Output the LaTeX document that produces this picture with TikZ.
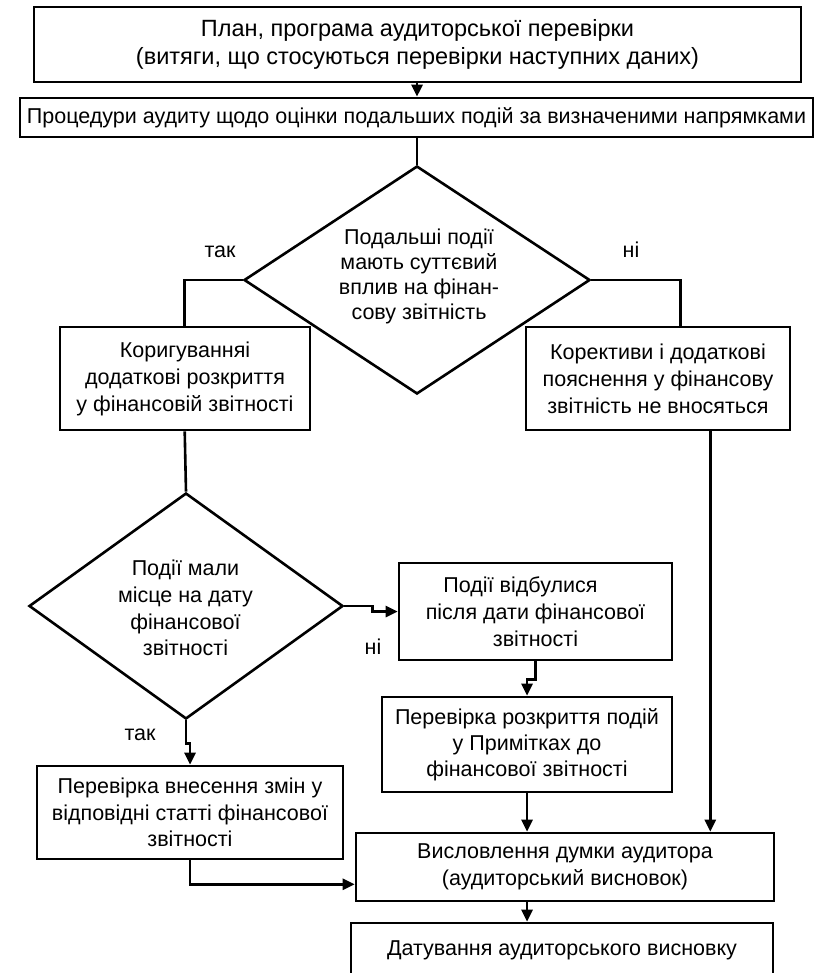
\documentclass[tikz,border=0pt]{standalone}
\usepackage{fontspec}
\setmainfont{Liberation Sans}
\usetikzlibrary{shapes.geometric,arrows.meta,calc}
\begin{document}
\begin{tikzpicture}[x=1pt,y=-1pt,
  line width=2.6pt,
  every node/.style={font=\fontsize{21.5}{27}\selectfont},
  box/.style={draw, rectangle, inner sep=0pt, align=center, line width=2.6pt},
  dia/.style={draw, diamond, inner sep=0pt, line width=2.6pt},
  txt/.style={align=center, inner sep=0pt},
  arr/.style={-{Triangle[length=12pt,width=11pt]}}
]
\useasboundingbox (0,0) rectangle (814,973);
\fill[white] (0,0) rectangle (814,973);

% boxes
\node[box, minimum width=767pt, minimum height=75pt, font=\fontsize{23.5}{28}\selectfont] (b1) at (417.5,44.5)
  {План, програма аудиторської перевірки\\(витяги, що стосуються перевірки наступних даних)};
\node[box, minimum width=793pt, minimum height=39pt] (b2) at (416.5,117.5)
  {Процедури аудиту щодо оцінки подальших подій за визначеними напрямками};
\node[dia, minimum width=346pt, minimum height=228pt] (d1) at (417,280) {};
\node[txt, font=\fontsize{21.5}{25}\selectfont] (t1) at (419,276)
  {Подальші події\\мають суттєвий\\вплив на фінан-\\сову звітність};
\node[box, minimum width=250pt, minimum height=103pt] (b3) at (185,378.5)
  {Коригуванняі\\додаткові розкриття\\у фінансовій звітності};
\node[box, minimum width=264pt, minimum height=103pt] (b4) at (658,378.5)
  {Корективи і додаткові\\пояснення у фінансову\\звітність не вносяться};
\node[dia, minimum width=314pt, minimum height=226pt] (d2) at (186,606) {};
\node[txt, font=\fontsize{21.5}{26.7}\selectfont] (t2) at (185.5,608)
  {Події мали\\місце на дату\\фінансової\\звітності};
\node[box, minimum width=273pt, minimum height=97pt] (b5) at (535.5,611.5)
  {Події відбулися\hspace*{30pt}\\після дати фінансової\\звітності};
\node[box, minimum width=290pt, minimum height=95pt, font=\fontsize{21.5}{26}\selectfont] (b6) at (527,744.5)
  {Перевірка розкриття подій\\у Примітках до\hspace*{40pt}\\фінансової звітності};
\node[box, minimum width=306pt, minimum height=93pt, font=\fontsize{21.5}{26.5}\selectfont] (b8) at (190,812.5)
  {Перевірка внесення змін у\\відповідні статті фінансової\\звітності};
\node[box, minimum width=418pt, minimum height=68pt] (b7) at (565,867)
  {Висловлення думки аудитора\\(аудиторський висновок)};
\node[box, minimum width=422pt, minimum height=54pt] (b9) at (562,950)
  {Датування аудиторського висновку};

% labels
\node (l1) at (220,252) {так};
\node (l2) at (631,250) {ні};
\node (l3) at (373,647) {ні};
\node (l4) at (140,735) {так};

% connectors
\draw[arr] (b1.south -| d1.north) -- (b2.north -| d1.north);
\draw (b2.south -| d1.north) -- (d1.north);
\coordinate (b3top) at ($(b3.north west)+(126,0)$);
\coordinate (b3bot) at ($(b3.south west)+(126,0)$);
\draw (d1.west) -| (b3top);
\coordinate (b4top) at ($(b4.north east)+(-111,0)$);
\coordinate (b4bot) at ($(b4.south east)+(-81,0)$);
\draw (d1.east) -| (b4top);
\draw (b3bot) -- (d2.north);
\draw[arr] (d2.east) -- ++(28,0) |- (b5.west);
\draw[arr] (b5.south) -- ++(0,18) -| (b6.north);
\draw[arr] (b6.south) -- (b6.south |- b7.north);
\draw[arr] (b4bot) -- (b4bot |- b7.north);
\draw[arr] (d2.south) -- ++(0,23) -| (b8.north);
\coordinate (b7in) at ($(b7.south west)+(0,-18)$);
\draw[arr] (b8.south) |- (b7in);
\draw[arr] (b7.south -| b6.south) -- (b6.south |- b9.north);
\end{tikzpicture}
\end{document}
